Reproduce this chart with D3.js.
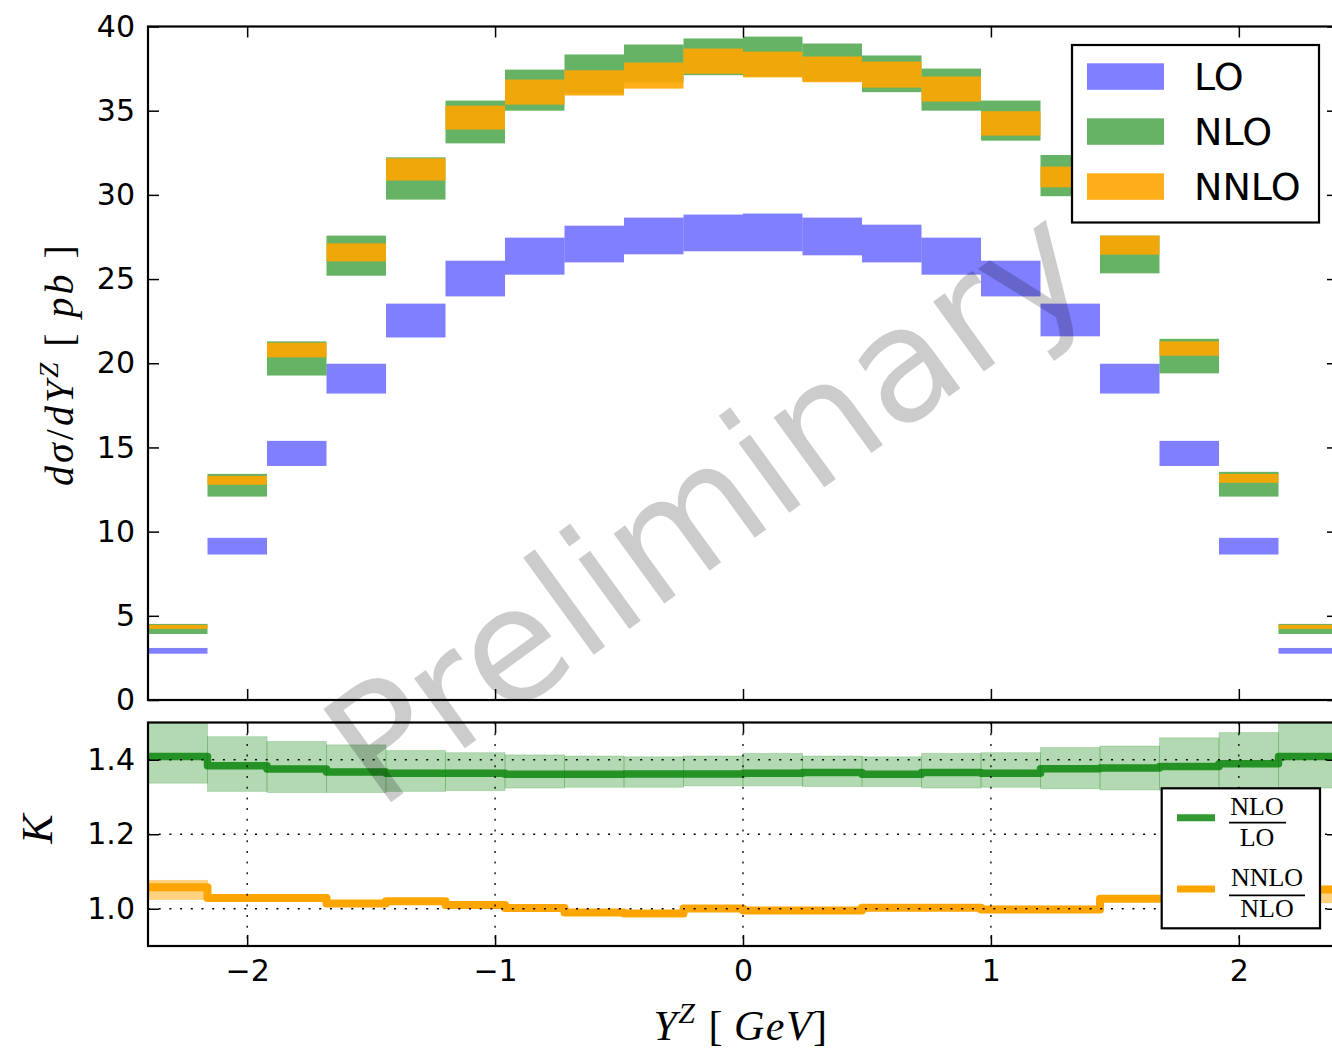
<!DOCTYPE html>
<html><head><meta charset="utf-8">
<script src="https://cdn.jsdelivr.net/npm/d3@7"></script>
<style>body{margin:0;background:#fff}svg{display:block}text{white-space:pre}</style>
</head><body>
<svg id="c" width="1332" height="1051"></svg>
<script>
// ---------------- data ----------------
const binEdges = [-2.4,-2.16,-1.92,-1.68,-1.44,-1.2,-0.96,-0.72,-0.48,-0.24,0,0.24,0.48,0.72,0.96,1.2,1.44,1.68,1.92,2.16,2.4];
const loLow   = [2.75,8.64,13.90,18.20,21.53,23.97,25.26,25.99,26.47,26.65,26.65,26.41,25.99,25.26,23.97,21.60,18.20,13.90,8.64,2.75];
const loHigh  = [3.09,9.63,15.39,19.97,23.54,26.09,27.46,28.17,28.65,28.83,28.89,28.65,28.23,27.46,26.09,23.54,19.97,15.39,9.63,3.09];
const nloLow  = [3.92,12.08,19.27,25.20,29.72,33.06,35.00,36.02,36.67,37.11,37.02,36.75,36.10,35.00,33.22,29.92,25.34,19.40,12.08,3.92];
const nloHigh = [4.52,13.43,21.30,27.58,32.23,35.60,37.44,38.34,38.93,39.29,39.40,38.99,38.28,37.50,35.60,32.37,27.58,21.45,13.55,4.52];
const nnloLow = [4.22,12.78,20.35,26.05,30.85,33.88,35.36,35.90,36.31,37.19,36.98,36.69,36.37,35.54,33.52,30.45,26.45,20.45,12.90,4.22];
const nnloHigh= [4.46,13.31,21.22,27.12,32.17,35.30,36.85,37.40,37.86,38.69,38.51,38.22,37.92,37.03,34.97,31.68,27.58,21.30,13.43,4.46];

const kNloLo     = [1.409,1.384,1.375,1.367,1.364,1.364,1.361,1.361,1.362,1.362,1.364,1.366,1.361,1.366,1.364,1.376,1.378,1.382,1.389,1.409];
const kNloLoLow  = [1.337,1.315,1.312,1.312,1.315,1.317,1.324,1.326,1.326,1.330,1.330,1.328,1.328,1.324,1.326,1.322,1.319,1.318,1.320,1.324];
const kNloLoHigh = [1.520,1.462,1.449,1.440,1.425,1.419,1.413,1.410,1.408,1.410,1.417,1.410,1.408,1.417,1.419,1.433,1.437,1.459,1.473,1.520];
const kNnloNlo     = [1.058,1.029,1.029,1.014,1.020,1.010,1.002,0.990,0.987,1.001,0.995,0.995,1.003,1.003,0.998,0.998,1.027,1.027,1.029,1.052];
const kNnloNloLow  = [1.025,1.023,1.024,1.009,1.015,1.005,0.997,0.985,0.982,0.996,0.990,0.990,0.998,0.998,0.993,0.993,1.022,1.022,1.022,1.016];
const kNnloNloHigh = [1.076,1.035,1.034,1.019,1.025,1.015,1.007,0.995,0.992,1.006,1.000,1.000,1.008,1.008,1.003,1.003,1.032,1.032,1.036,1.061];

const xTicks = [-2,-1,0,1,2];
const yTopTicks = [0,5,10,15,20,25,30,35,40];
const yBotTicks = [1.0,1.2,1.4];
const topLegend = ["LO","NLO","NNLO"];
const botLegend = [["NLO","LO"],["NNLO","NLO"]];
const watermark = "Preliminary";

// ---------------- layout ----------------
const svg = d3.select("#c");
const X0=148, X1=1338, T0=26.5, T1=700, B0=722.5, B1=946;
const x  = d3.scaleLinear().domain([-2.4,2.4]).range([X0,X1]);
const yT = d3.scaleLinear().domain([0,40]).range([T1,T0]);
const yB = d3.scaleLinear().domain([0.9,1.5]).range([B1,B0]);
const SANS = "DejaVu Sans", SERIF = "Liberation Serif";

const defs = svg.append("defs");
defs.append("clipPath").attr("id","clipT").append("rect").attr("x",X0).attr("y",T0).attr("width",X1-X0).attr("height",T1-T0);
defs.append("clipPath").attr("id","clipB").append("rect").attr("x",X0).attr("y",B0).attr("width",X1-X0).attr("height",B1-B0);

// ---------------- top panel ----------------
const gT = svg.append("g").attr("clip-path","url(#clipT)");
function bars(lo, hi, color, op){
  gT.append("g").selectAll("rect").data(lo).join("rect")
    .attr("x",(d,i)=>x(binEdges[i]))
    .attr("width",(d,i)=>x(binEdges[i+1])-x(binEdges[i]))
    .attr("y",(d,i)=>yT(hi[i]))
    .attr("height",(d,i)=>yT(lo[i])-yT(hi[i]))
    .attr("fill",color).attr("fill-opacity",op);
}
bars(loLow, loHigh, "blue", 0.5);
bars(nloLow, nloHigh, "green", 0.6);
bars(nnloLow, nnloHigh, "orange", 0.9);

// ---------------- bottom panel ----------------
const gB = svg.append("g").attr("clip-path","url(#clipB)");
function bands(lo, hi, color, op){
  gB.append("g").selectAll("rect").data(lo).join("rect")
    .attr("x",(d,i)=>x(binEdges[i]))
    .attr("width",(d,i)=>x(binEdges[i+1])-x(binEdges[i]))
    .attr("y",(d,i)=>yB(hi[i]))
    .attr("height",(d,i)=>yB(lo[i])-yB(hi[i]))
    .attr("fill",color).attr("fill-opacity",op)
    .attr("stroke",color).attr("stroke-opacity",op*0.6).attr("stroke-width",1);
}
bands(kNloLoLow, kNloLoHigh, "green", 0.3);
bands(kNnloNloLow, kNnloNloHigh, "orange", 0.5);

const step = d3.line().x(d=>x(d[0])).y(d=>yB(d[1])).curve(d3.curveStepAfter);
function stepPts(v){ const p = v.map((d,i)=>[binEdges[i],d]); p.push([binEdges[binEdges.length-1], v[v.length-1]]); return p; }
gB.append("path").attr("d",step(stepPts(kNloLo))).attr("fill","none")
  .attr("stroke","green").attr("stroke-opacity",0.8).attr("stroke-width",7.5).attr("stroke-linejoin","round");
gB.append("path").attr("d",step(stepPts(kNnloNlo))).attr("fill","none")
  .attr("stroke","orange").attr("stroke-width",8).attr("stroke-linejoin","round");

// grid (dotted)
const grid = gB.append("g").attr("stroke","#000").attr("stroke-width",1.3).attr("stroke-dasharray","2,8.7");
grid.selectAll(".gx").data(xTicks).join("line").attr("x1",d=>x(d)).attr("x2",d=>x(d)).attr("y1",B0).attr("y2",B1);
grid.selectAll(".gy").data(yBotTicks).join("line").attr("y1",d=>yB(d)).attr("y2",d=>yB(d)).attr("x1",X0).attr("x2",X1);

// ---------------- axes ----------------
function styleAxis(g){
  g.select(".domain").remove();
  g.selectAll(".tick line").attr("stroke","#000").attr("stroke-width",1.5);
  g.selectAll(".tick text").attr("fill","#000");
  g.attr("font-family",SANS).attr("font-size",30);
}
const TL = -11;
svg.append("g").attr("transform",`translate(0,${T1})`).call(d3.axisBottom(x).tickValues(xTicks).tickSize(TL).tickFormat("")).call(styleAxis);
svg.append("g").attr("transform",`translate(0,${T0})`).call(d3.axisTop(x).tickValues(xTicks).tickSize(TL).tickFormat("")).call(styleAxis);
svg.append("g").attr("transform",`translate(${X0},0)`).call(d3.axisLeft(yT).tickValues(yTopTicks).tickSize(TL).tickPadding(13).tickFormat(d3.format("d"))).call(styleAxis);
svg.append("g").attr("transform",`translate(${X1},0)`).call(d3.axisRight(yT).tickValues(yTopTicks).tickSize(TL).tickFormat("")).call(styleAxis);
svg.append("g").attr("transform",`translate(0,${B1})`).call(d3.axisBottom(x).tickValues(xTicks).tickSize(TL).tickPadding(14).tickFormat(d3.format("d"))).call(styleAxis);
svg.append("g").attr("transform",`translate(0,${B0})`).call(d3.axisTop(x).tickValues(xTicks).tickSize(TL).tickFormat("")).call(styleAxis);
svg.append("g").attr("transform",`translate(${X0},0)`).call(d3.axisLeft(yB).tickValues(yBotTicks).tickSize(TL).tickPadding(13).tickFormat(d3.format(".1f"))).call(styleAxis);
svg.append("g").attr("transform",`translate(${X1},0)`).call(d3.axisRight(yB).tickValues(yBotTicks).tickSize(TL).tickFormat("")).call(styleAxis);

svg.append("rect").attr("x",X0).attr("y",T0).attr("width",X1-X0).attr("height",T1-T0).attr("fill","none").attr("stroke","#000").attr("stroke-width",2.2);
svg.append("rect").attr("x",X0).attr("y",B0).attr("width",X1-X0).attr("height",B1-B0).attr("fill","none").attr("stroke","#000").attr("stroke-width",2.2);

// ---------------- axis labels ----------------
const yl = svg.append("text").attr("transform","translate(73,364) rotate(-90)").attr("text-anchor","middle")
  .attr("font-family",SERIF).attr("font-size",40).attr("letter-spacing",3).attr("fill","#000");
yl.append("tspan").attr("font-style","italic").text("dσ");
yl.append("tspan").text("/");
yl.append("tspan").attr("font-style","italic").text("dY");
yl.append("tspan").attr("font-style","italic").attr("font-size",27).attr("dy",-15).text("Z");
yl.append("tspan").attr("dy",15).text(" [ ");
yl.append("tspan").attr("font-style","italic").text("pb");
yl.append("tspan").text(" ]");

svg.append("text").attr("transform","translate(52,829) rotate(-90)").attr("text-anchor","middle")
  .attr("font-family",SERIF).attr("font-size",44).attr("font-style","italic").attr("fill","#000").text("K");

const xl = svg.append("text").attr("x",741).attr("y",1040).attr("text-anchor","middle")
  .attr("font-family",SERIF).attr("font-size",42).attr("letter-spacing",1.5).attr("fill","#000");
xl.append("tspan").attr("font-style","italic").text("Y");
xl.append("tspan").attr("font-style","italic").attr("font-size",30).attr("dy",-17).text("Z");
xl.append("tspan").attr("dy",17).text(" [\u2009");
xl.append("tspan").attr("font-style","italic").text("GeV");
xl.append("tspan").text("]");

// ---------------- top legend ----------------
const lgT = svg.append("g");
lgT.append("rect").attr("x",1072).attr("y",45).attr("width",247).attr("height",177.5).attr("fill","#fff").attr("stroke","#000").attr("stroke-width",2.2);
const legCol = [["blue",0.5],["green",0.6],["orange",0.9]];
topLegend.forEach((name,i)=>{
  const yy = 63.3 + i*55;
  lgT.append("rect").attr("x",1087).attr("y",yy).attr("width",77).attr("height",26.5).attr("fill",legCol[i][0]).attr("fill-opacity",legCol[i][1]);
  lgT.append("text").attr("x",1194).attr("y",yy+26.5).attr("font-family",SANS).attr("font-size",38).attr("fill","#000").text(name);
});

// ---------------- bottom legend ----------------
const lgB = svg.append("g");
lgB.append("rect").attr("x",1161.7).attr("y",788.3).attr("width",158.3).attr("height",140).attr("fill","#fff").attr("stroke","#000").attr("stroke-width",2.2);
const bl = [{y:817.7,c:"green",o:0.8,cx:1257,bar:[1229,1286],by:822.7,nb:815,db:845.7},
            {y:889,c:"orange",o:1,cx:1267,bar:[1229,1305],by:895.3,nb:885.7,db:916.7}];
botLegend.forEach((f,i)=>{
  const b = bl[i];
  lgB.append("line").attr("x1",1177).attr("x2",1215).attr("y1",b.y).attr("y2",b.y).attr("stroke",b.c).attr("stroke-opacity",b.o).attr("stroke-width",7);
  lgB.append("text").attr("x",b.cx).attr("y",b.nb).attr("text-anchor","middle").attr("font-family",SERIF).attr("font-size",26).attr("fill","#000").text(f[0]);
  lgB.append("line").attr("x1",b.bar[0]).attr("x2",b.bar[1]).attr("y1",b.by).attr("y2",b.by).attr("stroke","#000").attr("stroke-width",1.8);
  lgB.append("text").attr("x",b.cx).attr("y",b.db).attr("text-anchor","middle").attr("font-family",SERIF).attr("font-size",26).attr("fill","#000").text(f[1]);
});

// ---------------- watermark ----------------
svg.append("text").attr("transform","translate(706,503) rotate(-36)").attr("text-anchor","middle").attr("dy","0.36em")
  .attr("font-family",SANS).attr("font-size",158).attr("fill","#000").attr("fill-opacity",0.2).text(watermark);
</script>
</body></html>
